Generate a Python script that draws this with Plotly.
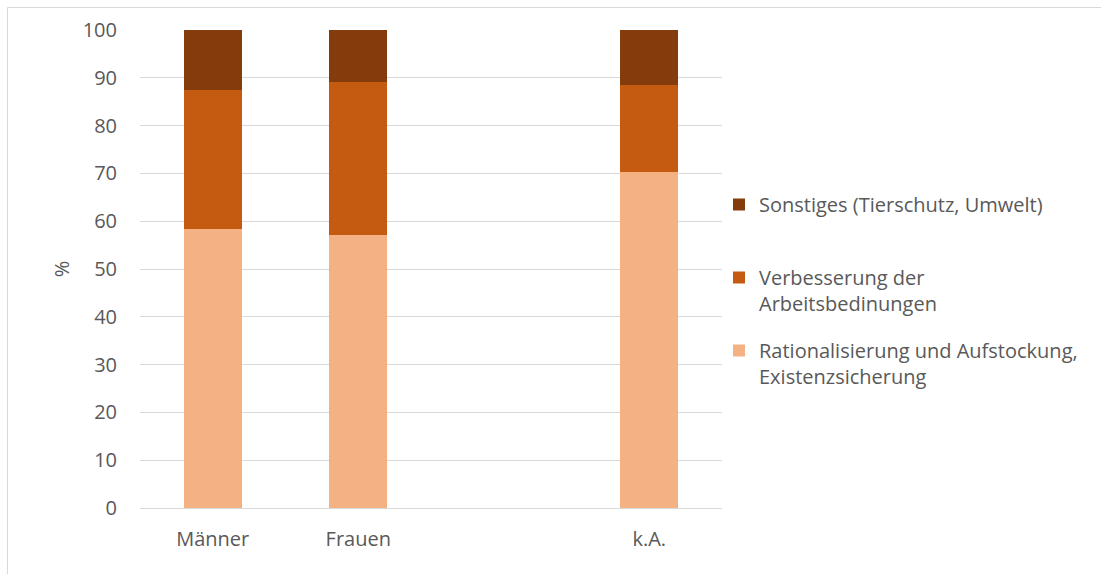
import plotly.graph_objects as go

categories = ["Männer", "Frauen", " ", "k.A."]
rationalisierung = [58.4, 57.1, None, 70.2]
verbesserung = [29.0, 32.0, None, 18.2]
sonstiges = [12.6, 10.9, None, 11.6]
y_ticks = [0, 10, 20, 30, 40, 50, 60, 70, 80, 90, 100]

series_names = [
    "Rationalisierung und Aufstockung,<br>Existenzsicherung",
    "Verbesserung der<br>Arbeitsbedinungen",
    "Sonstiges (Tierschutz, Umwelt)<br> ",
]
colors = ["#F4B183", "#C55A11", "#843C0C"]

W, H = 1101, 574
L, R, T, B = 140, 722, 30, 508
FONT = "'Open Sans', sans-serif"
GREY = "#595959"
FS = 20

fig = go.Figure()
series = [rationalisierung, verbesserung, sonstiges]
for i, (name, vals, col) in enumerate(zip(series_names, series, colors)):
    fig.add_trace(go.Bar(x=categories, y=vals, name=name, marker_color=col,
                         marker_line_width=0, width=0.4, legendgroup=f"g{i}",
                         legendrank=1000 - i))

def px_to_paper_x(px):
    return (px - L) / (R - L)

def px_to_paper_y(py):
    return (B - py) / (B - T)

fig.update_layout(
    width=W, height=H,
    margin=dict(l=L, r=W - R, t=T, b=H - B, pad=0),
    barmode="stack",
    plot_bgcolor="white", paper_bgcolor="white",
    font=dict(family=FONT, size=FS, color=GREY),
    showlegend=True,
    legend=dict(
        traceorder="grouped", x=px_to_paper_x(719), y=px_to_paper_y(185),
        xanchor="left", yanchor="top", valign="top",
        font=dict(family=FONT, size=FS, color=GREY),
        itemwidth=30, tracegroupgap=18, bgcolor="rgba(0,0,0,0)",
    ),
    xaxis=dict(showgrid=False, showline=False, ticks="", tickfont=dict(size=FS, color=GREY),
               ticklabelstandoff=17),
    yaxis=dict(range=[0, 100], tickvals=y_ticks, showgrid=True, gridcolor="#D9D9D9",
               gridwidth=1, zeroline=True, zerolinecolor="#D9D9D9", zerolinewidth=1,
               showline=False, ticks="", tickfont=dict(size=FS, color=GREY),
               ticklabelstandoff=22,
               title=dict(text="%", font=dict(size=FS, color=GREY), standoff=7)),
    shapes=[dict(type="rect", xref="paper", yref="paper",
                 x0=px_to_paper_x(7.5), x1=px_to_paper_x(1120),
                 y0=px_to_paper_y(600), y1=px_to_paper_y(7.5),
                 line=dict(color="#D9D9D9", width=1), fillcolor="rgba(0,0,0,0)",
                 layer="below")],
)

fig.write_html("out.html", config={"displayModeBar": False},
               post_script="document.body.style.margin='0px';")
